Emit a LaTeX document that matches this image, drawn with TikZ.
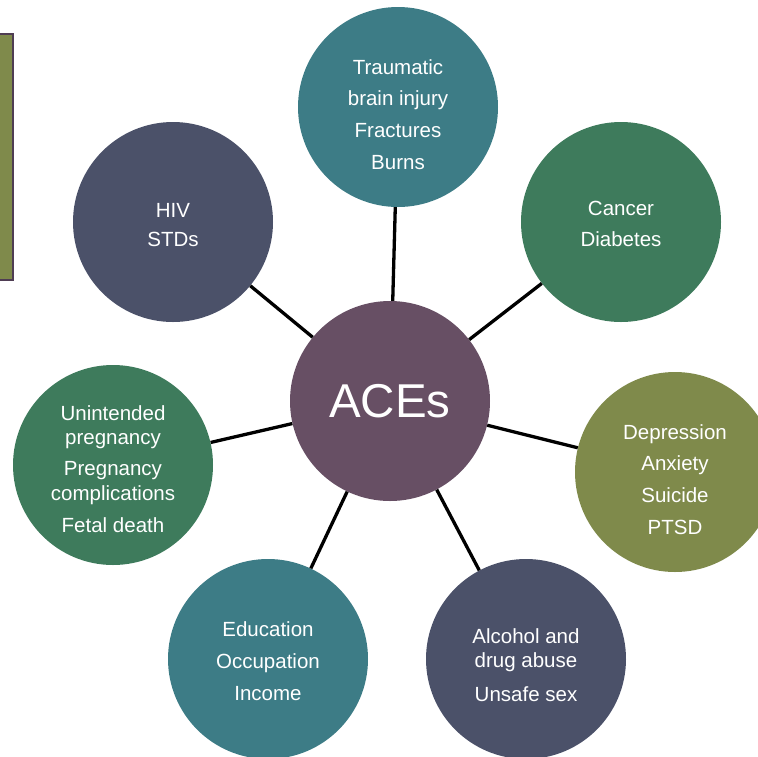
\documentclass[tikz,border=0pt]{standalone}
\usepackage{fontspec}
\setmainfont{Liberation Sans}
\usepackage{tikz}

\definecolor{aceteal}{HTML}{3D7C86}
\definecolor{acegreen}{HTML}{3E7B5C}
\definecolor{aceolive}{HTML}{7F8A4B}
\definecolor{aceslate}{HTML}{4B5169}
\definecolor{acepurple}{HTML}{674F64}
\definecolor{aceborder}{HTML}{4F3D53}

\tikzset{
    bubble/.style={circle, minimum size=200pt, inner sep=0pt, text=white},
    txt/.style={text=white, align=center, inner sep=0pt,
        font=\fontsize{20.5}{31.7}\selectfont},
    link/.style={line width=3.3pt, black},
}

\begin{document}
\begin{tikzpicture}[x=1pt, y=-1pt]
    \useasboundingbox (0,0) rectangle (758,756);
    \clip (0,0) rectangle (758,756);

    % side panel, mostly off the page
    \draw[fill=aceolive, draw=aceborder, line width=2.5pt] (-5,34) rectangle (13,280);

    \node[bubble, fill=acepurple, font=\fontsize{47.5}{50}\selectfont] (aces) at (390,401) {ACEs};
    \node[bubble, fill=aceteal]  (tbi)     at (398,107) {};
    \node[bubble, fill=acegreen] (chronic) at (621,222) {};
    \node[bubble, fill=aceolive] (mental)  at (675,472) {};
    \node[bubble, fill=aceslate] (risk)    at (526,659) {};
    \node[bubble, fill=aceteal]  (ses)     at (268,659) {};
    \node[bubble, fill=acegreen] (preg)    at (113,465) {};
    \node[bubble, fill=aceslate] (std)     at (173,222) {};

    \foreach \n in {tbi,chronic,mental,risk,ses,preg,std}
        \draw[link] (aces) -- (\n);

    \node[txt] (tbi-t)     at (398,114.5) {Traumatic\\ brain injury\\ Fractures\\ Burns};
    \node[txt] (chronic-t) at (621,224) {Cancer\\ Diabetes};
    \node[txt] (mental-t)  at (675,479.5) {Depression\\ Anxiety\\ Suicide\\ PTSD};
    \node[txt] (risk-t)    at (526,665) {Alcohol and\\[-7pt] drug abuse\\[2pt] Unsafe sex};
    \node[txt] (ses-t)     at (268,661) {Education\\ Occupation\\ Income};
    \node[txt] (preg-t)    at (113,469) {Unintended\\[-8pt] pregnancy\\ Pregnancy\\[-7pt] complications\\ Fetal death};
    \node[txt] (std-t)     at (173,225) {HIV\\[-3pt] STDs};
\end{tikzpicture}
\end{document}
